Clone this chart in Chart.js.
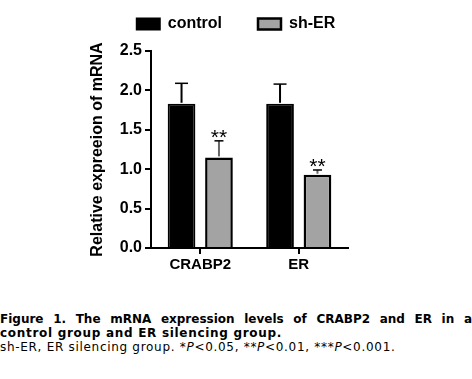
<!DOCTYPE html>
<html>
<head>
<meta charset="utf-8">
<script src="https://cdn.jsdelivr.net/npm/chart.js@4"></script>
<style>
  html, body { margin: 0; padding: 0; background: #fff; }
  #wrap { position: relative; width: 472px; height: 379px; overflow: hidden; }
  #chartBox { position: absolute; left: 0; top: 0; width: 472px; height: 290px; }
  #caption { position: absolute; left: 0; top: 312px; width: 472px; font-family: "DejaVu Sans", sans-serif; font-size: 12px; letter-spacing: 0.7px; line-height: 14px; color: #000; }
  .b { font-weight: bold; }
  .j { text-align: justify; text-align-last: justify; letter-spacing: 0; }
</style>
</head>
<body>
<div id="wrap">
  <div id="chartBox"><canvas id="c" width="472" height="290"></canvas></div>
  <div id="caption">
    <div class="b j">Figure 1. The mRNA expression levels of CRABP2 and ER in a</div>
    <div class="b">control group and ER silencing group.</div>
    <div>sh-ER, ER silencing group. *<i>P</i>&lt;0.05, **<i>P</i>&lt;0.01, ***<i>P</i>&lt;0.001.</div>
  </div>
</div>
<script>
const categories = ['CRABP2', 'ER'];
const seriesNames = ['control', 'sh-ER'];
const controlValues = [1.83, 1.83];
const controlErrors = [0.26, 0.25];
const shValues = [1.15, 0.93];
const shErrors = [0.21, 0.06];
const shSignificance = ['**', '**'];
const yMin = 0, yMax = 2.5, yStep = 0.5;
const yTitle = 'Relative expreeion of mRNA';

const legendFitPlugin = {
  id: 'legendFit',
  beforeLayout(chart) {
    const lg = chart.legend;
    if (lg && !lg._patched) {
      const f = lg.fit;
      lg.fit = function () { this.maxWidth = 472; f.call(this); this.height = 71; };
      lg._patched = true;
    }
  },
  afterLayout(chart) {
    const lg = chart.legend;
    if (lg) { lg.left = 0; lg.right = chart.width; lg.width = chart.width; }
  }
};

const errorBarPlugin = {
  id: 'errorBars',
  afterDatasetsDraw(chart) {
    const ctx = chart.ctx;
    const y = chart.scales.y;
    chart.data.datasets.forEach((ds, di) => {
      const meta = chart.getDatasetMeta(di);
      meta.data.forEach((bar, i) => {
        const v = ds.data[i];
        const e = ds.errors[i];
        const top = y.getPixelForValue(v + e);
        const base = y.getPixelForValue(v);
        const x = bar.x;
        ctx.save();
        ctx.lineWidth = 2;
        ctx.strokeStyle = ds.errColor;
        ctx.beginPath();
        ctx.moveTo(x, base - 1);
        ctx.lineTo(x, top);
        ctx.stroke();
        ctx.strokeStyle = '#000';
        ctx.lineWidth = 1.5;
        ctx.beginPath();
        ctx.moveTo(x - ds.capW / 2, top);
        ctx.lineTo(x + ds.capW / 2, top);
        ctx.stroke();
        if (ds.sig && ds.sig[i]) {
          ctx.fillStyle = '#000';
          ctx.font = '21px "Liberation Sans", Arial, sans-serif';
          ctx.textAlign = 'center';
          ctx.textBaseline = 'alphabetic';
          ctx.fillText(ds.sig[i], x, top + 3);
        }
        ctx.restore();
      });
    });
  }
};

const boldFont = { family: '"Liberation Sans", Arial, sans-serif', weight: 'bold' };

new Chart(document.getElementById('c'), {
  type: 'bar',
  data: {
    labels: categories,
    datasets: [
      { label: seriesNames[0], data: controlValues, errors: controlErrors, backgroundColor: '#000', borderColor: '#000', borderWidth: 2, errColor: '#000', capW: 13, categoryPercentage: 0.76, barPercentage: 0.74 },
      { label: seriesNames[1], data: shValues, errors: shErrors, sig: shSignificance, backgroundColor: '#a3a3a3', borderColor: '#000', borderWidth: 2.5, errColor: '#666', capW: 9, categoryPercentage: 0.76, barPercentage: 0.74 }
    ]
  },
  options: {
    responsive: false,
    animation: false,
    devicePixelRatio: 1,
    layout: { padding: { left: 88, right: 124, top: -20, bottom: 0 } },
    plugins: {
      legend: {
        position: 'top',
        labels: { color: '#000', boxWidth: 23, boxHeight: 11, padding: 36, font: { ...boldFont, size: 16 } }
      },
      tooltip: { enabled: false }
    },
    scales: {
      x: {
        grid: { display: true, drawOnChartArea: false, offset: false, color: '#000', lineWidth: 2, tickLength: 6 },
        border: { display: true, color: '#000', width: 2 },
        ticks: { color: '#000', font: { ...boldFont, size: 15 }, padding: 2 },
        afterFit(s) { s.height = 42; }
      },
      y: {
        min: yMin, max: yMax,
        ticks: { stepSize: yStep, color: '#000', font: { ...boldFont, size: 16 }, padding: 3, callback: v => v.toFixed(1) },
        grid: { display: true, drawOnChartArea: false, color: '#000', lineWidth: 2, tickLength: 6 },
        border: { display: true, color: '#000', width: 2 },
        title: { display: true, text: yTitle, color: '#000', font: { ...boldFont, size: 16 }, padding: 0 },
        afterFit(s) { s.width = 63; }
      }
    }
  },
  plugins: [legendFitPlugin, errorBarPlugin]
});
</script>
</body>
</html>
